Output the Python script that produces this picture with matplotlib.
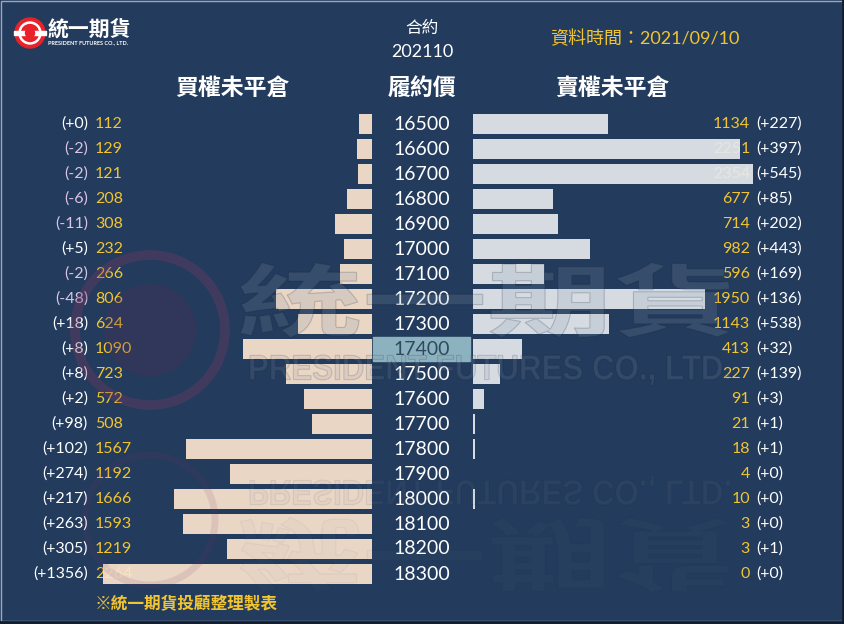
import matplotlib
matplotlib.use("Agg")
import matplotlib.pyplot as plt
from matplotlib.patches import Rectangle, Circle, PathPatch
from matplotlib.transforms import blended_transform_factory, Affine2D
from matplotlib.textpath import TextPath
from matplotlib.font_manager import FontProperties

plt.rcParams['font.family'] = ['Lato', 'Noto Sans CJK TC', 'DejaVu Sans']

# data
strikes = [16500, 16600, 16700, 16800, 16900, 17000, 17100, 17200, 17300, 17400,
           17500, 17600, 17700, 17800, 17900, 18000, 18100, 18200, 18300]
call_oi = [112, 129, 121, 208, 308, 232, 266, 806, 624, 1090,
           723, 572, 508, 1567, 1192, 1666, 1593, 1219, 2264]
call_chg = [0, -2, -2, -6, -11, 5, -2, -48, 18, 8,
            8, 2, 98, 102, 274, 217, 263, 305, 1356]
put_oi = [1134, 2251, 2354, 677, 714, 982, 596, 1950, 1143, 413,
          227, 91, 21, 18, 4, 10, 3, 3, 0]
put_chg = [227, 397, 545, 85, 202, 443, 169, 136, 538, 32,
           139, 3, 1, 1, 0, 0, 0, 1, 0]
atm = 17400
contract = "202110"
data_date = "2021/09/10"

BG = "#233b5c"
GOLD = "#f2c530"
PEACH = "#fce4cf"
GREY = "#e6eaee"
PINK = "#dcc4e4"
WM = "#8a9ab0"

W, H = 844, 624
fig = plt.figure(figsize=(W / 100, H / 100), dpi=100, facecolor=BG)

ax_bg = fig.add_axes([0, 0, 1, 1], zorder=0)
ax_bg.set_xlim(0, W)
ax_bg.set_ylim(H, 0)
ax_bg.axis("off")
ax_bg.add_patch(Rectangle((0.5, 0.5), W - 1.5, H - 4, fill=False, ec="#9aa8b8", lw=1))
ax_bg.plot([0, W], [622, 622], color="#111c2c", lw=2)
ax_bg.plot([842.5, 842.5], [0, H], color="#111c2c", lw=2)

n = len(strikes)
y0, y1 = 111.5, 586.5
bottom = 1 - y1 / H
height = (y1 - y0) / H
scale = 0.1188  # px per contract
lx0, lx1 = 40, 372
rx0, rx1 = 473, 805

ax_l = fig.add_axes([lx0 / W, bottom, (lx1 - lx0) / W, height], zorder=1)
ax_r = fig.add_axes([rx0 / W, bottom, (rx1 - rx0) / W, height], zorder=1)
for ax in (ax_l, ax_r):
    ax.set_facecolor("none")
    ax.axis("off")
    ax.set_ylim(n - 0.5, -0.5)
ax_l.set_xlim((lx1 - lx0) / scale, 0)
ax_r.set_xlim(0, (rx1 - rx0) / scale)

rows = list(range(n))
# minimum visible width for tiny values, like the original
put_draw = [max(v, 18) if v >= 10 else v for v in put_oi]
ax_l.barh(rows, call_oi, height=0.8, color=PEACH, alpha=0.92, zorder=2)
ax_r.barh(rows, put_draw, height=0.8, color=GREY, alpha=0.92, zorder=2)

tl = blended_transform_factory(ax_bg.transData, ax_l.transData)
tr = blended_transform_factory(ax_bg.transData, ax_r.transData)

fs = 11.5
for i in rows:
    c = call_chg[i]
    ax_l.text(88, i, "(%+d)" % c, transform=tl, ha="right", va="center",
              fontsize=fs, color=PINK if c < 0 else "white", zorder=1)
    ax_l.text(95, i, str(call_oi[i]), transform=tl, ha="left", va="center",
              fontsize=fs, color=GOLD, zorder=1)
    ax_r.text(750, i, str(put_oi[i]), transform=tr, ha="right", va="center",
              fontsize=fs, color=GOLD, zorder=1)
    p = put_chg[i]
    ax_r.text(756, i, "(%+d)" % p, transform=tr, ha="left", va="center",
              fontsize=fs, color=PINK if p < 0 else "white", zorder=1)
    hl = strikes[i] == atm
    if hl:
        ax_l.add_patch(Rectangle((373, i - 0.48), 97, 0.96, transform=tl,
                                 color="#8db2bf", clip_on=False, zorder=2))
    ax_l.text(422, i, str(strikes[i]), transform=tl, ha="center", va="center",
              fontsize=14, color="#2e4a5c" if hl else "white", zorder=3)

# header
ax_bg.text(422, 28, "合約", ha="center", va="center", fontsize=12, color="white")
ax_bg.text(422, 52, contract, ha="center", va="center", fontsize=13, color="white")
ax_bg.text(232, 88, "買權未平倉", ha="center", va="center", fontsize=16.5, color="white", fontweight="bold")
ax_bg.text(422, 88, "履約價", ha="center", va="center", fontsize=16.5, color="white", fontweight="bold")
ax_bg.text(612, 88, "賣權未平倉", ha="center", va="center", fontsize=16.5, color="white", fontweight="bold")
ax_bg.text(550, 39, "資料時間：" + data_date, ha="left", va="center", fontsize=13, color=GOLD)
ax_bg.text(95, 604, "※統一期貨投顧整理製表", ha="left", va="center", fontsize=12,
           color=GOLD, fontweight="bold")

# logo
ax_bg.add_patch(Circle((30, 33), 15, color="#e8222a"))
ax_bg.add_patch(Circle((30, 33), 11, color="white"))
ax_bg.add_patch(Circle((30, 33), 8.5, color="#e8222a"))
ax_bg.add_patch(Rectangle((14, 31), 32, 4, color="white"))
ax_bg.add_patch(Circle((30, 33), 4.5, color="#e8222a"))
ax_bg.text(48, 30, "統一期貨", ha="left", va="center", fontsize=15, color="white",
           fontweight="bold", family=["Noto Sans CJK TC"])
ax_bg.text(48, 43, "PRESIDENT FUTURES CO., LTD.", ha="left", va="center", fontsize=4,
           color="white", fontweight="bold")

# watermark on top
ax_wm = fig.add_axes([0, 0, 1, 1], zorder=3)
ax_wm.set_xlim(0, W)
ax_wm.set_ylim(H, 0)
ax_wm.axis("off")
ax_wm.set_facecolor("none")


def wm_text(s, family, cx, cy, w, h, flip, alpha):
    tp = TextPath((0, 0), s, size=50, prop=FontProperties(family=family, weight="bold"))
    e = tp.get_extents()
    sy = h / e.height if flip else -h / e.height
    tf = Affine2D().translate(-e.x0 - e.width / 2, -e.y0 - e.height / 2) \
        .scale(w / e.width, sy).translate(cx, cy)
    ax_wm.add_patch(PathPatch(tf.transform_path(tp), fc=WM, ec="#0e1c30",
                              lw=0.8, alpha=alpha))


ax_wm.add_patch(Circle((150, 330), 75, fill=False, ec="#7a3a66", lw=7, alpha=0.35))
ax_wm.add_patch(Circle((150, 330), 45, color="#5e2c56", alpha=0.25))
wm_text("統一期貨", "Noto Sans CJK TC", 485, 300, 490, 75, False, 0.2)
wm_text("PRESIDENT FUTURES CO., LTD.", "Liberation Sans", 490, 370, 480, 30, False, 0.16)
wm_text("PRESIDENT FUTURES CO., LTD.", "Liberation Sans", 490, 490, 480, 30, True, 0.08)
wm_text("統一期貨", "Noto Sans CJK TC", 485, 555, 490, 75, True, 0.045)
ax_wm.add_patch(Circle((150, 520), 65, fill=False, ec="#7a3a66", lw=5, alpha=0.12))

fig.savefig("out.png", dpi=100, facecolor=BG)
